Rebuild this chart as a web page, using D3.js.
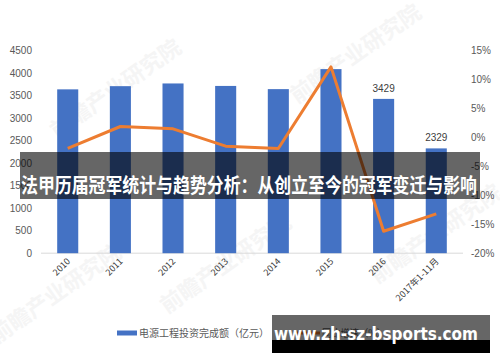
<!DOCTYPE html>
<html>
<head>
<meta charset="utf-8">
<script src="https://cdn.jsdelivr.net/npm/d3@7"></script>
<style>
body{margin:0;background:#fff;}
svg{display:block;font-family:"Noto Sans CJK SC","Noto Sans",sans-serif;}
</style>
</head>
<body>
<script>
// data
const years=["2010","2011","2012","2013","2014","2015","2016","2017年1-11月"];
const invest=[3641,3712,3772,3717,3646,4091,3429,2329];
const growth=[-1.9,1.9,1.5,-1.5,-1.9,12.2,-16.2,-13.2];
const leftTicks=[0,500,1000,1500,2000,2500,3000,3500,4000,4500];
const rightTicks=[-20,-15,-10,-5,0,5,10,15];
const labelled=["2016","2017年1-11月"];

const w=500,h=362;
const svg=d3.select("body").append("svg").attr("width",w).attr("height",h);

//scales
const x=d3.scaleBand().domain(years).range([41.4,462.6]).paddingInner(0.6).paddingOuter(0.3);
const yL=d3.scaleLinear().domain([0,4500]).range([253.2,50.7]);
const yR=d3.scaleLinear().domain([-20,15]).range([253.2,50.7]);

// faint watermarks
const wm=[[120,95],[360,60],[230,270],[440,240],[60,300]];
svg.selectAll(".wm").data(wm).enter().append("text")
  .attr("transform",d=>"translate("+d[0]+","+d[1]+") rotate(-35)")
  .attr("text-anchor","middle").attr("font-size",22).attr("font-weight","bold")
  .attr("fill","#f5f5f5").text("前瞻产业研究院");

// baseline
svg.append("line").attr("x1",41).attr("x2",463).attr("y1",yL(0)).attr("y2",yL(0))
  .attr("stroke","#d9d9d9");

// bars
svg.selectAll(".bar").data(years).enter().append("rect")
  .attr("x",d=>x(d)).attr("width",x.bandwidth())
  .attr("y",(d,i)=>yL(invest[i])).attr("height",(d,i)=>yL(0)-yL(invest[i]))
  .attr("fill","#4472c4");

// bar value labels
svg.selectAll(".vl").data(years.filter(d=>labelled.includes(d))).enter().append("text")
  .attr("x",d=>x(d)+x.bandwidth()/2).attr("y",d=>yL(invest[years.indexOf(d)])-7)
  .attr("text-anchor","middle").attr("font-size",10).attr("fill","#404040")
  .attr("font-family","Liberation Sans,Arial,sans-serif")
  .text(d=>invest[years.indexOf(d)]);

// line
const line=d3.line().x((d,i)=>x(years[i])+x.bandwidth()/2).y(d=>yR(d));
svg.append("path").datum(growth).attr("d",line).attr("fill","none")
  .attr("stroke","#ed7d31").attr("stroke-width",3).attr("stroke-linejoin","round");

// axes
const axL=d3.axisLeft(yL).tickValues(leftTicks).tickSize(0).tickPadding(0).tickFormat(d3.format("d"));
const gL=svg.append("g").attr("transform","translate(32,0)").call(axL);
gL.select(".domain").remove();
gL.selectAll("text").attr("font-size",10).attr("fill","#595959").attr("font-family","Liberation Sans,Arial,sans-serif");

const axR=d3.axisRight(yR).tickValues(rightTicks).tickSize(0).tickPadding(0).tickFormat(d=>d+"%");
const gR=svg.append("g").attr("transform","translate(471,0)").call(axR);
gR.select(".domain").remove();
gR.selectAll("text").attr("font-size",10).attr("fill","#595959").attr("font-family","Liberation Sans,Arial,sans-serif");

// x labels
svg.selectAll(".xl").data(years).enter().append("text")
  .attr("transform",d=>"translate("+(x(d)+x.bandwidth()/2+3)+",262) rotate(-45)")
  .attr("text-anchor","end").attr("font-size",9)
  .attr("fill","#404040").text(d=>d);

// legend
svg.append("line").attr("x1",117).attr("x2",137).attr("y1",333).attr("y2",333)
  .attr("stroke","#4472c4").attr("stroke-width",5);
svg.append("text").attr("x",139).attr("y",337).attr("font-size",10).attr("fill","#595959")
  .attr("textLength",130).attr("lengthAdjust","spacingAndGlyphs")
  .text("电源工程投资完成额（亿元）");
svg.append("line").attr("x1",296).attr("x2",320).attr("y1",333).attr("y2",333)
  .attr("stroke","#ed7d31").attr("stroke-width",3);
svg.append("text").attr("x",322).attr("y",337).attr("font-size",10).attr("fill","#595959")
  .attr("textLength",64).attr("lengthAdjust","spacingAndGlyphs")
  .text("同比增速（%）");

// title banner
svg.append("rect").attr("x",20).attr("y",152).attr("width",460).attr("height",47)
  .attr("fill","#000").attr("opacity",0.6);
svg.append("text").attr("x",21).attr("y",193)
  .attr("font-size",20).attr("font-weight","bold").attr("fill","#fff")
  .attr("textLength",456).attr("lengthAdjust","spacingAndGlyphs")
  .text("法甲历届冠军统计与趋势分析：从创立至今的冠军变迁与影响");

// site banner
svg.append("rect").attr("x",272).attr("y",315).attr("width",218).attr("height",25)
  .attr("fill","#000").attr("opacity",0.6);
svg.append("rect").attr("x",272).attr("y",340).attr("width",218).attr("height",13)
  .attr("fill","#000");
svg.append("text").attr("x",274).attr("y",340)
  .attr("font-size",18).attr("font-weight","bold").attr("fill","#fff")
  .attr("font-family","DejaVu Sans,sans-serif")
  .attr("textLength",204).attr("lengthAdjust","spacingAndGlyphs")
  .text("www.zh-sz-bsports.com");
</script>
</body>
</html>
